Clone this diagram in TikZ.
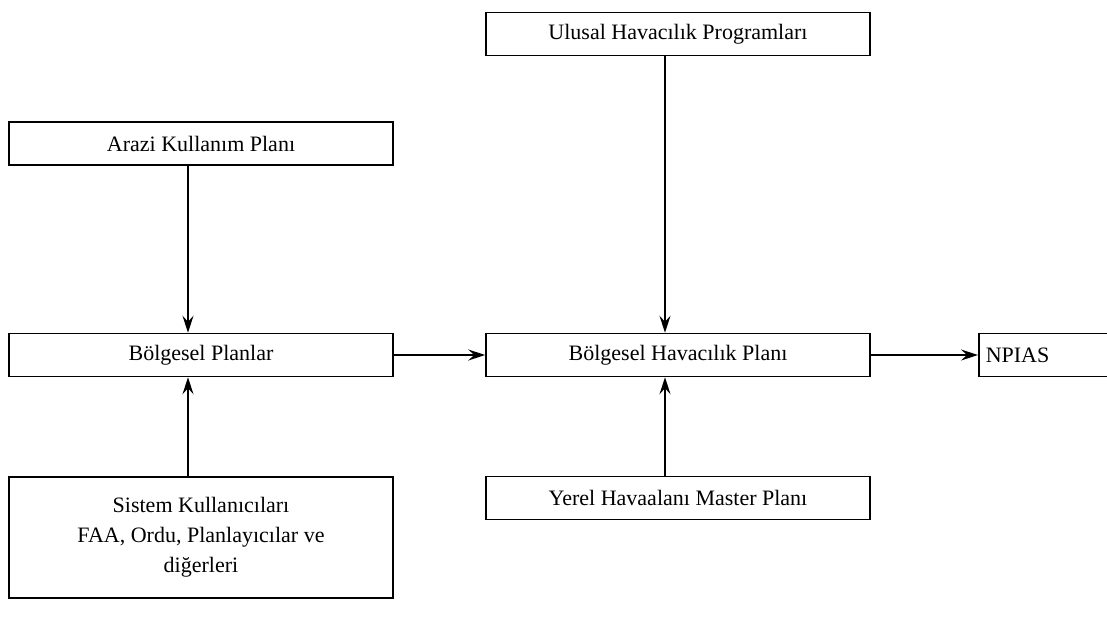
\documentclass[tikz,border=0pt]{standalone}
\usepackage{fontspec}
\setmainfont{Liberation Serif}
\usetikzlibrary{arrows.meta}
\begin{document}
\begin{tikzpicture}[x=1pt,y=-1pt,
  box/.style={draw, line width=1.5pt, inner sep=0pt, minimum height=43pt,
    font=\fontsize{22}{30}\selectfont},
  widebox/.style={box, minimum width=384pt},
  arr/.style={line width=1.5pt, -{Stealth[length=17pt,width=11pt,inset=6pt]}}]
\useasboundingbox (0,0) rectangle (1107,634);

% planning levels
\node[widebox] (ulusal) at (678,34) {Ulusal Havacılık Programları};
\node[widebox] (arazi) at (201,143.5) {Arazi Kullanım Planı};
\node[widebox] (bplan) at (201,355) {Bölgesel Planlar};
\node[widebox] (bhav) at (678,355) {Bölgesel Havacılık Planı};
\node[box, anchor=west, minimum width=170pt, text width=156pt, align=left,
  inner xsep=7pt] (npias) at (978,355) {NPIAS};
\node[widebox, minimum height=121pt, align=center] (sistem) at (201,537.5)
  {Sistem Kullanıcıları\\FAA, Ordu, Planlayıcılar ve\\diğerleri};
\node[widebox] (yerel) at (678,498) {Yerel Havaalanı Master Planı};

% columns of the vertical connectors
\coordinate (lx) at (188,0);
\coordinate (mx) at (665,0);

\draw[arr] (arazi.south -| lx) -- (bplan.north -| lx);
\draw[arr] (sistem.north -| lx) -- (bplan.south -| lx);
\draw[arr] (ulusal.south -| mx) -- (bhav.north -| mx);
\draw[arr] (yerel.north -| mx) -- (bhav.south -| mx);
\draw[arr] (bplan.east) -- (bhav.west);
\draw[arr] (bhav.east) -- (npias.west);
\end{tikzpicture}
\end{document}
